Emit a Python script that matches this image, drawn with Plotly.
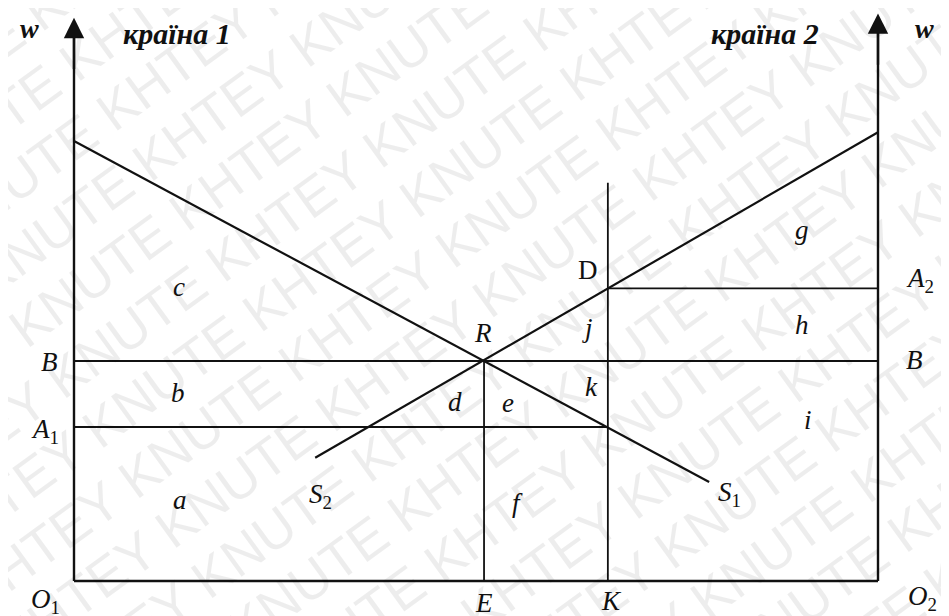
"""Two-country labour market diagram: wage w against labour, O1..O2 width."""

import plotly.graph_objects as go

# --- data (labour on x: O1 = 0, O2 = 100; wage on y) -----------------------
L_TOTAL = 100.0
L_E = 51.0            # equilibrium allocation (point E)
L_K = 66.4            # initial allocation (point K)
W_B = 50.0            # common wage after migration (B)
W_A1 = 35.0           # country-1 wage before (A1)
W_A2 = 66.5           # country-2 wage before (A2)
K_TOP = 90.5          # top of the K vertical
AXIS_TOP = [128.0, 129.0]   # arrow tips, left / right w axes

S1_X = [0.0, 79.0]
S1_Y = [100.0, 22.5]
S2_X = [30.0, 100.0]
S2_Y = [28.0, 102.0]

# area / point labels: text, x, y
LABELS = [
    ("<i>c</i>", 13.0, 66.8), ("<i>b</i>", 12.9, 42.7), ("<i>a</i>", 13.2, 18.4),
    ("<i>S</i><sub>2</sub>", 30.6, 19.3), ("<i>S</i><sub>1</sub>", 81.5, 19.8),
    ("<i>B</i>", -3.0, 49.8), ("<i>A</i><sub>1</sub>", -3.6, 34.1),
    ("<i>R</i>", 50.9, 56.4), ("D", 63.9, 70.7), ("<i>j</i>", 63.9, 57.5),
    ("<i>k</i>", 64.4, 44.1), ("<i>d</i>", 47.4, 40.7), ("<i>e</i>", 54.0, 40.5),
    ("<i>f</i>", 55.1, 17.7), ("<i>g</i>", 90.5, 79.8), ("<i>h</i>", 90.5, 58.2),
    ("<i>i</i>", 91.3, 36.6), ("<i>A</i><sub>2</sub>", 105.2, 68.4),
    ("<i>B</i>", 104.6, 50.2), ("<i>O</i><sub>1</sub>", -3.6, -4.5),
    ("<i>E</i>", 51.0, -5.0), ("<i>K</i>", 66.9, -4.5),
    ("<i>O</i><sub>2</sub>", 105.5, -3.9),
]
HEADERS = [
    ("<b><i>w</i></b>", -5.5, 125.6, 28), ("<b><i>країна 1</i></b>", 12.8, 124.5, 30),
    ("<b><i>країна 2</i></b>", 85.9, 124.5, 30), ("<b><i>w</i></b>", 105.8, 125.6, 28),
]
WATERMARK = "KHTEY KNUTE KHTEY KNUTE KHTEY KNUTE"

INK = "#111111"
SERIF = "Liberation Serif"
W, H = 949, 616
PAGE_OFF = 8          # default body margin of the written page

fig = go.Figure()


def seg(xs, ys, width=2.0):
    fig.add_trace(go.Scatter(x=xs, y=ys, mode="lines", hoverinfo="skip",
                             line=dict(color=INK, width=width), showlegend=False))


# frame: bottom axis and two wage axes
seg([0, L_TOTAL], [0, 0], 2.6)
seg([0, 0], [0, AXIS_TOP[0] - 4], 2.4)
seg([L_TOTAL, L_TOTAL], [0, AXIS_TOP[1] - 4], 2.4)
# supply curves
seg(S1_X, S1_Y, 2.2)
seg(S2_X, S2_Y, 2.2)
# wage levels
seg([0, L_TOTAL], [W_B, W_B], 1.8)
seg([0, L_K], [W_A1, W_A1], 1.8)
seg([L_K, L_TOTAL], [W_A2, W_A2], 1.8)
# allocations
seg([L_E, L_E], [0, W_B], 1.8)
seg([L_K, L_K], [0, K_TOP], 1.8)

for xa, tip in zip([0, L_TOTAL], AXIS_TOP):
    fig.add_annotation(x=xa, y=tip, ax=xa, ay=tip - 12, xref="x", yref="y",
                       axref="x", ayref="y", text="", showarrow=True,
                       arrowhead=2, arrowsize=1.7, arrowwidth=2.4, arrowcolor=INK)

for txt, x, y in LABELS:
    fig.add_annotation(x=x, y=y, text=txt, showarrow=False,
                       font=dict(family=SERIF, size=27, color=INK))
for txt, x, y, size in HEADERS:
    fig.add_annotation(x=x, y=y, text=txt, showarrow=False,
                       font=dict(family=SERIF, size=size, color=INK))

# faint diagonal watermark of the scan
for n in range(-11, 12):
    px = 474 + 0.588 * 62 * n - PAGE_OFF
    py = 308 + 0.809 * 62 * n - PAGE_OFF
    fig.add_annotation(x=px / W, y=1 - py / H, xref="paper", yref="paper",
                       xanchor="center", yanchor="middle",
                       text=WATERMARK, showarrow=False, textangle=-36,
                       font=dict(family="Liberation Sans", size=54,
                                 color="rgba(0,0,0,0.07)"))

# px per unit: 8.04 horizontally, 4.4 vertically; O1 sits at (74, 581) on screen
x0 = -(74 - PAGE_OFF) / 8.04
y1 = (581 - PAGE_OFF) / 4.4
fig.update_layout(
    width=W, height=H, margin=dict(l=0, r=0, t=0, b=0),
    paper_bgcolor="white", plot_bgcolor="white", showlegend=False,
    xaxis=dict(range=[x0, x0 + W / 8.04], visible=False, fixedrange=True),
    yaxis=dict(range=[y1 - H / 4.4, y1], visible=False, fixedrange=True),
)
fig.write_html("out.html")
